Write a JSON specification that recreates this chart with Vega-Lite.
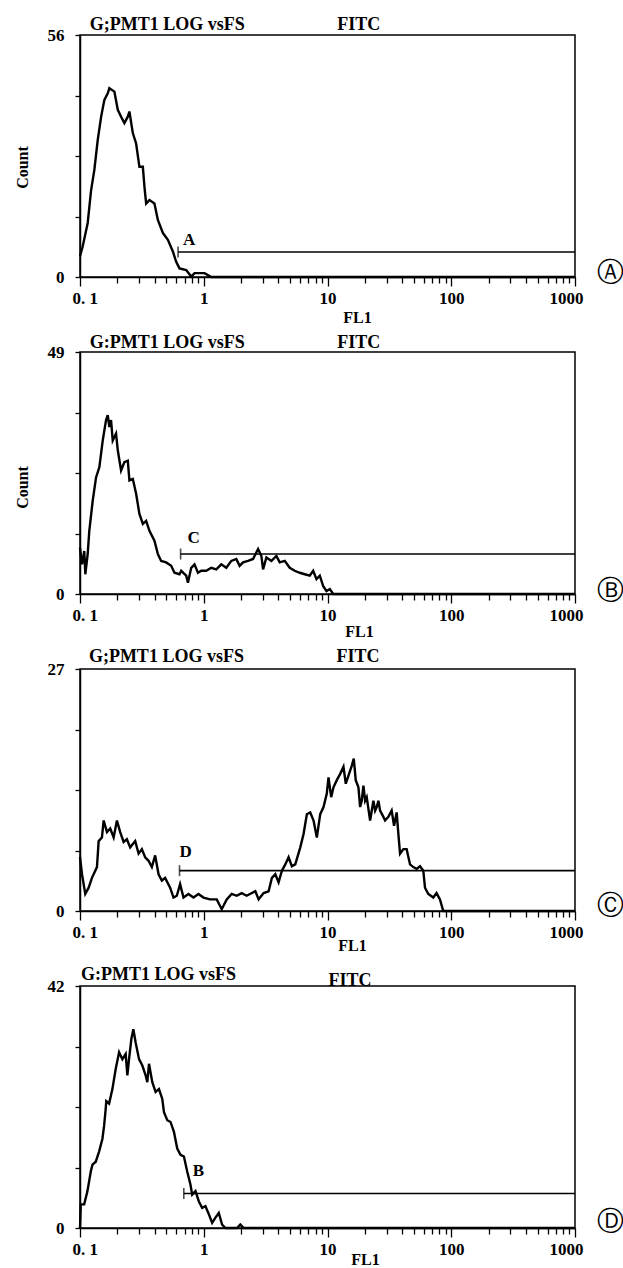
{
  "$schema": "https://vega.github.io/schema/vega-lite/v6.json",
  "autosize": {"type": "none"},
  "padding": {"left": 80, "top": 35, "right": 543, "bottom": 1233},
  "background": "white",
  "config": {
    "font": "Liberation Serif",
    "view": {"stroke": "black", "strokeWidth": 1.5},
    "axis": {
      "grid": false, "domainColor": "black", "domainWidth": 1.5,
      "tickColor": "black", "tickWidth": 1.3,
      "labelColor": "black", "labelFont": "Liberation Serif", "labelFontSize": 17, "labelFontWeight": "bold",
      "titleColor": "black", "titleFont": "Liberation Serif", "titleFontSize": 16, "titleFontWeight": "bold"
    }
  },
  "datasets": {
    "A": [
      {"fl1": 0.1, "count": 4.8}, {"fl1": 0.105, "count": 7.0}, {"fl1": 0.1154, "count": 12.5}, {"fl1": 0.1228, "count": 20},
      {"fl1": 0.1306, "count": 24.8}, {"fl1": 0.1391, "count": 31.7}, {"fl1": 0.148, "count": 37}, {"fl1": 0.1574, "count": 41},
      {"fl1": 0.1676, "count": 42.5}, {"fl1": 0.1727, "count": 43.7}, {"fl1": 0.1896, "count": 42.9}, {"fl1": 0.202, "count": 38.7},
      {"fl1": 0.2148, "count": 37.1}, {"fl1": 0.2284, "count": 35.6}, {"fl1": 0.2434, "count": 37.1}, {"fl1": 0.2508, "count": 38.3},
      {"fl1": 0.2672, "count": 33.3}, {"fl1": 0.2841, "count": 30.9}, {"fl1": 0.3021, "count": 25.5}, {"fl1": 0.322, "count": 25.5},
      {"fl1": 0.3317, "count": 20.9}, {"fl1": 0.3424, "count": 17}, {"fl1": 0.364, "count": 17.8}, {"fl1": 0.3995, "count": 17},
      {"fl1": 0.4258, "count": 13.2}, {"fl1": 0.4673, "count": 10.2}, {"fl1": 0.513, "count": 8.6}, {"fl1": 0.563, "count": 5.9},
      {"fl1": 0.5988, "count": 3.5}, {"fl1": 0.6368, "count": 2}, {"fl1": 0.7216, "count": 1.6}, {"fl1": 0.7922, "count": 0.1},
      {"fl1": 0.8423, "count": 0.9}, {"fl1": 1.015, "count": 0.9}, {"fl1": 1.15, "count": 0}, {"fl1": 1000, "count": 0}
    ],
    "B": [
      {"fl1": 0.1, "count": 9.4}, {"fl1": 0.1038, "count": 6.0}, {"fl1": 0.1083, "count": 8.7}, {"fl1": 0.1104, "count": 4.0},
      {"fl1": 0.1154, "count": 8.1}, {"fl1": 0.1189, "count": 12.8}, {"fl1": 0.1267, "count": 18.9}, {"fl1": 0.1348, "count": 23.6},
      {"fl1": 0.1434, "count": 25.7}, {"fl1": 0.1527, "count": 31.1}, {"fl1": 0.1624, "count": 35.2}, {"fl1": 0.1676, "count": 36.2},
      {"fl1": 0.1727, "count": 33.8}, {"fl1": 0.1782, "count": 35.2}, {"fl1": 0.1839, "count": 31.1}, {"fl1": 0.1956, "count": 32.5},
      {"fl1": 0.202, "count": 29.1}, {"fl1": 0.2148, "count": 25.0}, {"fl1": 0.2284, "count": 26.7}, {"fl1": 0.2434, "count": 27.0},
      {"fl1": 0.2508, "count": 23.0}, {"fl1": 0.2672, "count": 23.3}, {"fl1": 0.2841, "count": 20.3}, {"fl1": 0.3021, "count": 16.2},
      {"fl1": 0.322, "count": 14.2}, {"fl1": 0.3424, "count": 14.8}, {"fl1": 0.364, "count": 12.8}, {"fl1": 0.3995, "count": 10.8},
      {"fl1": 0.4258, "count": 8.1}, {"fl1": 0.4527, "count": 6.7}, {"fl1": 0.4971, "count": 6.4}, {"fl1": 0.5457, "count": 5.7},
      {"fl1": 0.5802, "count": 4.3}, {"fl1": 0.6368, "count": 4.0}, {"fl1": 0.6574, "count": 4.7}, {"fl1": 0.7216, "count": 3.7},
      {"fl1": 0.7449, "count": 2.3}, {"fl1": 0.7922, "count": 5.3}, {"fl1": 0.8423, "count": 6.0}, {"fl1": 0.8974, "count": 4.3},
      {"fl1": 0.9545, "count": 4.7}, {"fl1": 1.0477, "count": 4.7}, {"fl1": 1.15, "count": 5.3}, {"fl1": 1.262, "count": 5.0},
      {"fl1": 1.386, "count": 6.0}, {"fl1": 1.521, "count": 5.3}, {"fl1": 1.67, "count": 6.7}, {"fl1": 1.833, "count": 7.1},
      {"fl1": 1.949, "count": 5.7}, {"fl1": 2.077, "count": 6.4}, {"fl1": 2.28, "count": 6.7}, {"fl1": 2.503, "count": 7.1},
      {"fl1": 2.748, "count": 9.1}, {"fl1": 2.922, "count": 7.7}, {"fl1": 3.016, "count": 5.0}, {"fl1": 3.207, "count": 7.4},
      {"fl1": 3.521, "count": 6.7}, {"fl1": 3.864, "count": 7.7}, {"fl1": 4.109, "count": 6.4}, {"fl1": 4.511, "count": 6.7},
      {"fl1": 4.951, "count": 5.3}, {"fl1": 5.435, "count": 4.7}, {"fl1": 5.966, "count": 4.3}, {"fl1": 6.549, "count": 4.0},
      {"fl1": 7.19, "count": 3.7}, {"fl1": 7.66, "count": 4.7}, {"fl1": 8.147, "count": 3.0}, {"fl1": 8.666, "count": 3.7},
      {"fl1": 9.232, "count": 1.6}, {"fl1": 9.815, "count": 0.6}, {"fl1": 10.44, "count": 1.0}, {"fl1": 11.12, "count": 0},
      {"fl1": 1000, "count": 0}
    ],
    "C": [
      {"fl1": 0.1, "count": 6.0}, {"fl1": 0.1038, "count": 4.1}, {"fl1": 0.1103, "count": 1.9}, {"fl1": 0.1175, "count": 2.6},
      {"fl1": 0.1249, "count": 3.7}, {"fl1": 0.1371, "count": 4.9}, {"fl1": 0.1415, "count": 7.8}, {"fl1": 0.1504, "count": 8.2},
      {"fl1": 0.1553, "count": 10.1}, {"fl1": 0.1651, "count": 8.8}, {"fl1": 0.1755, "count": 9.2}, {"fl1": 0.187, "count": 8.2},
      {"fl1": 0.1988, "count": 10.1}, {"fl1": 0.2113, "count": 8.8}, {"fl1": 0.2251, "count": 7.7}, {"fl1": 0.2393, "count": 8.0},
      {"fl1": 0.2545, "count": 7.1}, {"fl1": 0.2793, "count": 7.8}, {"fl1": 0.2975, "count": 6.4}, {"fl1": 0.3162, "count": 6.9},
      {"fl1": 0.3362, "count": 6.0}, {"fl1": 0.3581, "count": 5.6}, {"fl1": 0.3807, "count": 4.9}, {"fl1": 0.4049, "count": 6.2},
      {"fl1": 0.4313, "count": 4.1}, {"fl1": 0.4585, "count": 3.4}, {"fl1": 0.4875, "count": 3.7}, {"fl1": 0.5349, "count": 2.6},
      {"fl1": 0.5696, "count": 1.5}, {"fl1": 0.6057, "count": 1.7}, {"fl1": 0.644, "count": 3.0}, {"fl1": 0.6861, "count": 1.5},
      {"fl1": 0.7525, "count": 1.9}, {"fl1": 0.8258, "count": 1.5}, {"fl1": 0.9064, "count": 1.9}, {"fl1": 0.9945, "count": 1.5},
      {"fl1": 1.124, "count": 1.3}, {"fl1": 1.273, "count": 1.3}, {"fl1": 1.397, "count": 0.2}, {"fl1": 1.533, "count": 1.3},
      {"fl1": 1.682, "count": 1.9}, {"fl1": 1.846, "count": 1.7}, {"fl1": 2.026, "count": 2.0}, {"fl1": 2.223, "count": 1.7},
      {"fl1": 2.612, "count": 2.2}, {"fl1": 2.777, "count": 1.3}, {"fl1": 3.047, "count": 2.0}, {"fl1": 3.343, "count": 2.2},
      {"fl1": 3.554, "count": 3.7}, {"fl1": 3.787, "count": 4.1}, {"fl1": 4.025, "count": 3.2}, {"fl1": 4.281, "count": 4.5},
      {"fl1": 4.559, "count": 5.2}, {"fl1": 4.847, "count": 6.0}, {"fl1": 5.154, "count": 5.0}, {"fl1": 5.49, "count": 5.2},
      {"fl1": 6.024, "count": 7.1}, {"fl1": 6.405, "count": 8.6}, {"fl1": 6.809, "count": 10.8}, {"fl1": 7.253, "count": 11.0},
      {"fl1": 7.713, "count": 10.1}, {"fl1": 8.199, "count": 8.2}, {"fl1": 8.734, "count": 10.8}, {"fl1": 9.284, "count": 11.6},
      {"fl1": 9.871, "count": 13.1}, {"fl1": 10.19, "count": 14.9}, {"fl1": 10.71, "count": 12.7}, {"fl1": 11.18, "count": 13.8},
      {"fl1": 11.89, "count": 14.6}, {"fl1": 12.66, "count": 15.3}, {"fl1": 13.46, "count": 16.1}, {"fl1": 14.05, "count": 14.2},
      {"fl1": 14.77, "count": 15.1}, {"fl1": 15.7, "count": 16.2}, {"fl1": 16.3, "count": 17.0}, {"fl1": 16.91, "count": 14.6},
      {"fl1": 17.78, "count": 13.8}, {"fl1": 18.35, "count": 11.6}, {"fl1": 18.91, "count": 12.3}, {"fl1": 19.51, "count": 14.0},
      {"fl1": 20.14, "count": 12.3}, {"fl1": 20.75, "count": 12.7}, {"fl1": 22.1, "count": 10.1}, {"fl1": 23.5, "count": 12.3},
      {"fl1": 24.25, "count": 11.2}, {"fl1": 24.98, "count": 11.6}, {"fl1": 25.78, "count": 12.3}, {"fl1": 26.61, "count": 11.2},
      {"fl1": 28.29, "count": 10.5}, {"fl1": 29.2, "count": 10.1}, {"fl1": 31.04, "count": 10.5}, {"fl1": 33.0, "count": 11.2},
      {"fl1": 34.51, "count": 9.5}, {"fl1": 36.22, "count": 11.0}, {"fl1": 37.38, "count": 8.6}, {"fl1": 38.58, "count": 6.4},
      {"fl1": 41.02, "count": 6.9}, {"fl1": 43.61, "count": 6.9}, {"fl1": 46.45, "count": 5.2}, {"fl1": 49.37, "count": 4.9},
      {"fl1": 52.5, "count": 4.7}, {"fl1": 55.92, "count": 5.0}, {"fl1": 59.45, "count": 4.5}, {"fl1": 61.36, "count": 2.6},
      {"fl1": 65.23, "count": 1.9}, {"fl1": 71.58, "count": 1.5}, {"fl1": 76.11, "count": 2.0}, {"fl1": 81.07, "count": 1.3},
      {"fl1": 86.19, "count": 0}, {"fl1": 1000, "count": 0}
    ],
    "D": [
      {"fl1": 0.1, "count": 0}, {"fl1": 0.1015, "count": 4.1}, {"fl1": 0.1081, "count": 4.1}, {"fl1": 0.1149, "count": 6.4},
      {"fl1": 0.1222, "count": 9.8}, {"fl1": 0.1261, "count": 11.0}, {"fl1": 0.1341, "count": 11.5}, {"fl1": 0.1428, "count": 13.3},
      {"fl1": 0.1518, "count": 15.5}, {"fl1": 0.1567, "count": 17.8}, {"fl1": 0.1614, "count": 20.7}, {"fl1": 0.163, "count": 22.0},
      {"fl1": 0.1719, "count": 21.6}, {"fl1": 0.1827, "count": 24.1}, {"fl1": 0.1943, "count": 27.6}, {"fl1": 0.207, "count": 30.5},
      {"fl1": 0.22, "count": 29.3}, {"fl1": 0.2339, "count": 30.2}, {"fl1": 0.2414, "count": 26.5}, {"fl1": 0.2491, "count": 29.3},
      {"fl1": 0.26, "count": 32.8}, {"fl1": 0.2698, "count": 34.5}, {"fl1": 0.2816, "count": 32.2}, {"fl1": 0.2999, "count": 29.3},
      {"fl1": 0.3189, "count": 28.2}, {"fl1": 0.339, "count": 26.5}, {"fl1": 0.3499, "count": 25.3}, {"fl1": 0.3611, "count": 28.5},
      {"fl1": 0.3839, "count": 25.3}, {"fl1": 0.4082, "count": 23.6}, {"fl1": 0.4347, "count": 24.1}, {"fl1": 0.4622, "count": 22.4},
      {"fl1": 0.477, "count": 20.1}, {"fl1": 0.5071, "count": 18.7}, {"fl1": 0.5391, "count": 18.4}, {"fl1": 0.5742, "count": 16.7},
      {"fl1": 0.6105, "count": 13.8}, {"fl1": 0.649, "count": 12.7}, {"fl1": 0.6914, "count": 12.4}, {"fl1": 0.7349, "count": 9.8},
      {"fl1": 0.7813, "count": 7.5}, {"fl1": 0.8064, "count": 5.8}, {"fl1": 0.8574, "count": 6.4}, {"fl1": 0.9131, "count": 4.6},
      {"fl1": 0.9707, "count": 3.5}, {"fl1": 1.032, "count": 3.8}, {"fl1": 1.099, "count": 2.4}, {"fl1": 1.169, "count": 0.9},
      {"fl1": 1.243, "count": 1.8}, {"fl1": 1.323, "count": 2.6}, {"fl1": 1.407, "count": 0.6}, {"fl1": 1.496, "count": 0},
      {"fl1": 1.858, "count": 0}, {"fl1": 1.975, "count": 0.6}, {"fl1": 2.105, "count": 0}, {"fl1": 1000, "count": 0}
    ],
    "gates": [
      {"panel": "A", "start": 0.62, "end": 1000, "level": 5.8, "label": "A", "mark": "Ⓐ", "zero": 0},
      {"panel": "B", "start": 0.65, "end": 1000, "level": 8.1, "label": "C", "mark": "Ⓑ", "zero": 0},
      {"panel": "C", "start": 0.637, "end": 1000, "level": 4.5, "label": "D", "mark": "Ⓒ", "zero": 0},
      {"panel": "D", "start": 0.69, "end": 1000, "level": 6.0, "label": "B", "mark": "Ⓓ", "zero": 0}
    ]
  },
  "bounds": "flush",
  "spacing": 75,
  "vconcat": [
    {
      "width": 495, "height": 242,
      "layer": [
        {
          "data": {"name": "A"},
          "mark": {"type": "line", "color": "black", "strokeWidth": 2.4},
          "encoding": {
            "x": {"field": "fl1", "type": "quantitative", "scale": {"type": "log", "domain": [0.1, 1000], "nice": false},
              "axis": {"title": "FL1", "values": [0.1,0.2,0.3,0.4,0.5,0.6,0.7,0.8,0.9,1,2,3,4,5,6,7,8,9,10,20,30,40,50,60,70,80,90,100,200,300,400,500,600,700,800,900,1000],
                "labelExpr": "datum.value == 0.1 ? '0. 1' : datum.value == 1 ? '1' : datum.value == 10 ? '10' : datum.value == 100 ? '100' : datum.value == 1000 ? '1000' : ''",
                "tickSize": {"condition": {"test": "indexof([0.1,1,10,100,1000], datum.value) >= 0", "value": 9}, "value": 6},
                "labelPadding": 4, "labelFlush": true, "labelFlushOffset": 8,
                "titleX": 277, "titleY": 32, "titleBaseline": "top"}},
            "y": {"field": "count", "type": "quantitative", "scale": {"domain": [0, 56], "nice": false},
              "axis": {"title": "Count", "values": [0, 14, 28, 42, 56], "labelExpr": "datum.value == 0 || datum.value == 56 ? datum.label : ''",
                "tickSize": 5, "labelPadding": 11, "labelFlush": false, "titleX": -58, "titleY": 132, "titleBaseline": "middle"}}
          }
        },
        {
          "data": {"name": "gates"}, "transform": [{"filter": "datum.panel == 'A'"}],
          "layer": [
            {"mark": {"type": "rule", "color": "black", "strokeWidth": 1.6},
              "encoding": {"x": {"field": "start", "type": "quantitative"}, "x2": {"field": "end"}, "y": {"field": "level", "type": "quantitative"}}},
            {"mark": {"type": "tick", "orient": "vertical", "size": 11, "thickness": 1.6, "color": "black"},
              "encoding": {"x": {"field": "start", "type": "quantitative"}, "y": {"field": "level", "type": "quantitative"}}},
            {"mark": {"type": "text", "align": "left", "baseline": "bottom", "dx": 5, "dy": -3, "fontSize": 17, "fontWeight": "bold", "font": "Liberation Serif", "color": "black"},
              "encoding": {"x": {"field": "start", "type": "quantitative"}, "y": {"field": "level", "type": "quantitative"}, "text": {"field": "label"}}},
            {"mark": {"type": "text", "align": "left", "baseline": "alphabetic", "dy": -5, "fontSize": 18, "fontWeight": "bold", "font": "Liberation Serif", "color": "black"},
              "encoding": {"x": {"datum": 0.12}, "y": {"datum": 56}, "text": {"value": "G;PMT1  LOG vsFS"}}},
            {"mark": {"type": "text", "align": "left", "baseline": "alphabetic", "dy": -5, "fontSize": 18, "fontWeight": "bold", "font": "Liberation Serif", "color": "black"},
              "encoding": {"x": {"datum": 12}, "y": {"datum": 56}, "text": {"value": "FITC"}}},
            {"mark": {"type": "text", "align": "center", "baseline": "middle", "dy": -4, "fontSize": 27, "font": "DejaVu Sans", "color": "black"},
              "encoding": {"x": {"datum": 1950}, "y": {"field": "zero", "type": "quantitative"}, "text": {"field": "mark"}}}
          ]
        }
      ]
    },
    {
      "width": 495, "height": 242,
      "layer": [
        {
          "data": {"name": "B"},
          "mark": {"type": "line", "color": "black", "strokeWidth": 2.4},
          "encoding": {
            "x": {"field": "fl1", "type": "quantitative", "scale": {"type": "log", "domain": [0.1, 1000], "nice": false},
              "axis": {"title": "FL1", "values": [0.1,0.2,0.3,0.4,0.5,0.6,0.7,0.8,0.9,1,2,3,4,5,6,7,8,9,10,20,30,40,50,60,70,80,90,100,200,300,400,500,600,700,800,900,1000],
                "labelExpr": "datum.value == 0.1 ? '0. 1' : datum.value == 1 ? '1' : datum.value == 10 ? '10' : datum.value == 100 ? '100' : datum.value == 1000 ? '1000' : ''",
                "tickSize": {"condition": {"test": "indexof([0.1,1,10,100,1000], datum.value) >= 0", "value": 9}, "value": 6},
                "labelPadding": 4, "labelFlush": true, "labelFlushOffset": 8,
                "titleX": 279, "titleY": 29, "titleBaseline": "top"}},
            "y": {"field": "count", "type": "quantitative", "scale": {"domain": [0, 49], "nice": false},
              "axis": {"title": "Count", "values": [0, 12.25, 24.5, 36.75, 49], "labelExpr": "datum.value == 0 || datum.value == 49 ? datum.label : ''",
                "tickSize": 5, "labelPadding": 11, "labelFlush": false, "titleX": -58, "titleY": 135, "titleBaseline": "middle"}}
          }
        },
        {
          "data": {"name": "gates"}, "transform": [{"filter": "datum.panel == 'B'"}],
          "layer": [
            {"mark": {"type": "rule", "color": "black", "strokeWidth": 1.6},
              "encoding": {"x": {"field": "start", "type": "quantitative"}, "x2": {"field": "end"}, "y": {"field": "level", "type": "quantitative"}}},
            {"mark": {"type": "tick", "orient": "vertical", "size": 11, "thickness": 1.6, "color": "black"},
              "encoding": {"x": {"field": "start", "type": "quantitative"}, "y": {"field": "level", "type": "quantitative"}}},
            {"mark": {"type": "text", "align": "left", "baseline": "bottom", "dx": 7, "dy": -7, "fontSize": 17, "fontWeight": "bold", "font": "Liberation Serif", "color": "black"},
              "encoding": {"x": {"field": "start", "type": "quantitative"}, "y": {"field": "level", "type": "quantitative"}, "text": {"field": "label"}}},
            {"mark": {"type": "text", "align": "left", "baseline": "alphabetic", "dy": -4, "fontSize": 18, "fontWeight": "bold", "font": "Liberation Serif", "color": "black"},
              "encoding": {"x": {"datum": 0.12}, "y": {"datum": 49}, "text": {"value": "G:PMT1  LOG vsFS"}}},
            {"mark": {"type": "text", "align": "left", "baseline": "alphabetic", "dy": -4, "fontSize": 18, "fontWeight": "bold", "font": "Liberation Serif", "color": "black"},
              "encoding": {"x": {"datum": 12}, "y": {"datum": 49}, "text": {"value": "FITC"}}},
            {"mark": {"type": "text", "align": "center", "baseline": "middle", "dy": -3, "fontSize": 27, "font": "DejaVu Sans", "color": "black"},
              "encoding": {"x": {"datum": 1950}, "y": {"field": "zero", "type": "quantitative"}, "text": {"field": "mark"}}}
          ]
        }
      ]
    },
    {
      "width": 495, "height": 242,
      "layer": [
        {
          "data": {"name": "C"},
          "mark": {"type": "line", "color": "black", "strokeWidth": 2.4},
          "encoding": {
            "x": {"field": "fl1", "type": "quantitative", "scale": {"type": "log", "domain": [0.1, 1000], "nice": false},
              "axis": {"title": "FL1", "values": [0.1,0.2,0.3,0.4,0.5,0.6,0.7,0.8,0.9,1,2,3,4,5,6,7,8,9,10,20,30,40,50,60,70,80,90,100,200,300,400,500,600,700,800,900,1000],
                "labelExpr": "datum.value == 0.1 ? '0. 1' : datum.value == 1 ? '1' : datum.value == 10 ? '10' : datum.value == 100 ? '100' : datum.value == 1000 ? '1000' : ''",
                "tickSize": {"condition": {"test": "indexof([0.1,1,10,100,1000], datum.value) >= 0", "value": 9}, "value": 6},
                "labelPadding": 4, "labelFlush": true, "labelFlushOffset": 8,
                "titleX": 272, "titleY": 26, "titleBaseline": "top"}},
            "y": {"field": "count", "type": "quantitative", "scale": {"domain": [0, 27], "nice": false},
              "axis": {"title": null, "values": [0, 6.75, 13.5, 20.25, 27], "labelExpr": "datum.value == 0 || datum.value == 27 ? datum.label : ''",
                "tickSize": 5, "labelPadding": 11, "labelFlush": false}}
          }
        },
        {
          "data": {"name": "gates"}, "transform": [{"filter": "datum.panel == 'C'"}],
          "layer": [
            {"mark": {"type": "rule", "color": "black", "strokeWidth": 1.6},
              "encoding": {"x": {"field": "start", "type": "quantitative"}, "x2": {"field": "end"}, "y": {"field": "level", "type": "quantitative"}}},
            {"mark": {"type": "tick", "orient": "vertical", "size": 11, "thickness": 1.6, "color": "black"},
              "encoding": {"x": {"field": "start", "type": "quantitative"}, "y": {"field": "level", "type": "quantitative"}}},
            {"mark": {"type": "text", "align": "left", "baseline": "bottom", "dx": 0, "dy": -10, "fontSize": 17, "fontWeight": "bold", "font": "Liberation Serif", "color": "black"},
              "encoding": {"x": {"field": "start", "type": "quantitative"}, "y": {"field": "level", "type": "quantitative"}, "text": {"field": "label"}}},
            {"mark": {"type": "text", "align": "left", "baseline": "alphabetic", "dy": -7, "fontSize": 18, "fontWeight": "bold", "font": "Liberation Serif", "color": "black"},
              "encoding": {"x": {"datum": 0.118}, "y": {"datum": 27}, "text": {"value": "G;PMT1  LOG vsFS"}}},
            {"mark": {"type": "text", "align": "left", "baseline": "alphabetic", "dy": -7, "fontSize": 18, "fontWeight": "bold", "font": "Liberation Serif", "color": "black"},
              "encoding": {"x": {"datum": 11.8}, "y": {"datum": 27}, "text": {"value": "FITC"}}},
            {"mark": {"type": "text", "align": "center", "baseline": "middle", "dy": -5, "fontSize": 27, "font": "DejaVu Sans", "color": "black"},
              "encoding": {"x": {"datum": 1950}, "y": {"field": "zero", "type": "quantitative"}, "text": {"field": "mark"}}}
          ]
        }
      ]
    },
    {
      "width": 495, "height": 242,
      "layer": [
        {
          "data": {"name": "D"},
          "mark": {"type": "line", "color": "black", "strokeWidth": 2.4},
          "encoding": {
            "x": {"field": "fl1", "type": "quantitative", "scale": {"type": "log", "domain": [0.1, 1000], "nice": false},
              "axis": {"title": "FL1", "values": [0.1,0.2,0.3,0.4,0.5,0.6,0.7,0.8,0.9,1,2,3,4,5,6,7,8,9,10,20,30,40,50,60,70,80,90,100,200,300,400,500,600,700,800,900,1000],
                "labelExpr": "datum.value == 0.1 ? '0. 1' : datum.value == 1 ? '1' : datum.value == 10 ? '10' : datum.value == 100 ? '100' : datum.value == 1000 ? '1000' : ''",
                "tickSize": {"condition": {"test": "indexof([0.1,1,10,100,1000], datum.value) >= 0", "value": 9}, "value": 6},
                "labelPadding": 4, "labelFlush": true, "labelFlushOffset": 8,
                "titleX": 285, "titleY": 23, "titleBaseline": "top"}},
            "y": {"field": "count", "type": "quantitative", "scale": {"domain": [0, 42], "nice": false},
              "axis": {"title": null, "values": [0, 10.5, 21, 31.5, 42], "labelExpr": "datum.value == 0 || datum.value == 42 ? datum.label : ''",
                "tickSize": 5, "labelPadding": 11, "labelFlush": false}}
          }
        },
        {
          "data": {"name": "gates"}, "transform": [{"filter": "datum.panel == 'D'"}],
          "layer": [
            {"mark": {"type": "rule", "color": "black", "strokeWidth": 1.6},
              "encoding": {"x": {"field": "start", "type": "quantitative"}, "x2": {"field": "end"}, "y": {"field": "level", "type": "quantitative"}}},
            {"mark": {"type": "tick", "orient": "vertical", "size": 11, "thickness": 1.6, "color": "black"},
              "encoding": {"x": {"field": "start", "type": "quantitative"}, "y": {"field": "level", "type": "quantitative"}}},
            {"mark": {"type": "text", "align": "left", "baseline": "bottom", "dx": 9, "dy": -13, "fontSize": 17, "fontWeight": "bold", "font": "Liberation Serif", "color": "black"},
              "encoding": {"x": {"field": "start", "type": "quantitative"}, "y": {"field": "level", "type": "quantitative"}, "text": {"field": "label"}}},
            {"mark": {"type": "text", "align": "left", "baseline": "alphabetic", "dy": -6, "fontSize": 18, "fontWeight": "bold", "font": "Liberation Serif", "color": "black"},
              "encoding": {"x": {"datum": 0.102}, "y": {"datum": 42}, "text": {"value": "G:PMT1  LOG vsFS"}}},
            {"mark": {"type": "text", "align": "left", "baseline": "alphabetic", "dy": 0, "fontSize": 18, "fontWeight": "bold", "font": "Liberation Serif", "color": "black"},
              "encoding": {"x": {"datum": 10.2}, "y": {"datum": 42}, "text": {"value": "FITC"}}},
            {"mark": {"type": "text", "align": "center", "baseline": "middle", "dy": -6, "fontSize": 27, "font": "DejaVu Sans", "color": "black"},
              "encoding": {"x": {"datum": 1950}, "y": {"field": "zero", "type": "quantitative"}, "text": {"field": "mark"}}}
          ]
        }
      ]
    }
  ]
}
